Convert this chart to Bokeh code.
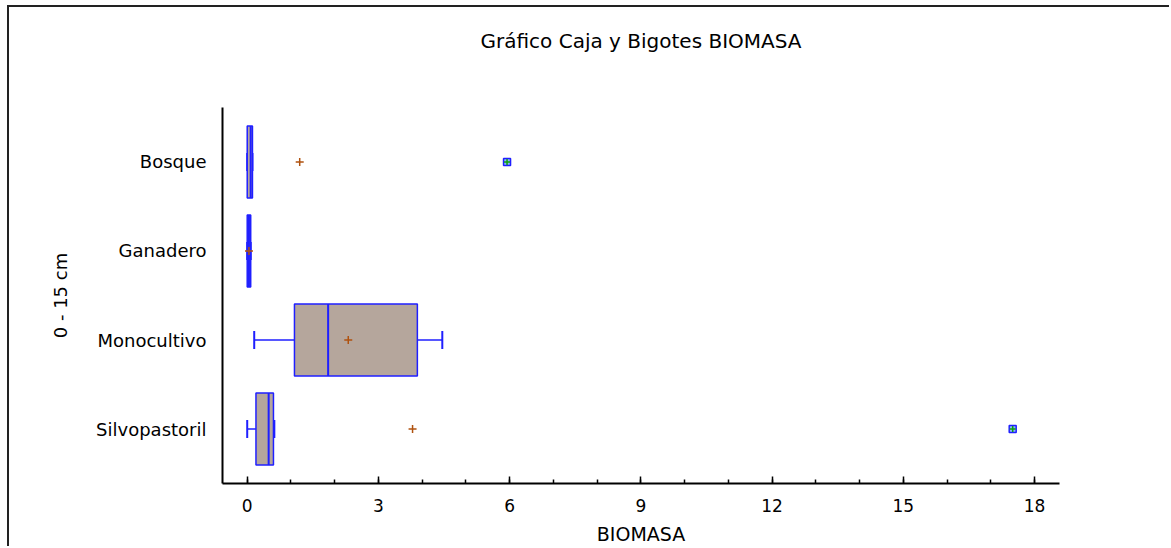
from bokeh.plotting import figure
from bokeh.models import FactorRange, Range1d, SingleIntervalTicker
from bokeh.embed import file_html
from bokeh.resources import INLINE

# ---- data ----
categories = ["Bosque", "Ganadero", "Monocultivo", "Silvopastoril"]
whisker_low = [0.0, 0.0, 0.16, 0.0]
q1 = [0.0, 0.0, 1.08, 0.20]
median = [0.08, 0.04, 1.85, 0.49]
q3 = [0.12, 0.08, 3.89, 0.60]
whisker_high = [0.12, 0.08, 4.46, 0.62]
mean = [1.20, 0.04, 2.31, 3.78]
outlier_cat = ["Bosque", "Silvopastoril"]
outlier_val = [5.94, 17.50]

title = "Gráfico Caja y Bigotes BIOMASA"
x_label = "BIOMASA"
y_label = "0 - 15 cm"

FONT = "DejaVu Sans"
BLUE = "#1f1fff"
FILL = "#b5a69c"
BROWN = "#b0520f"

# canvas offset by the outer page frame (margin + 2px border)
OX, OY = 9, 7
W, H = 1171 - OX, 548 - OY

p = figure(
    width=W, height=H,
    y_range=FactorRange(factors=categories[::-1], range_padding=0.056,
                        range_padding_units="percent"),
    x_range=Range1d(-0.565, 18.57),
    output_backend="svg", toolbar_location=None,
    min_border_left=222 - OX, min_border_right=W - (1059 - OX),
    min_border_top=107 - OY, min_border_bottom=H - (483 - OY),
)
p.margin = (5, 0, 0, 7)
p.styles = {"border-top": "2px solid #222222", "border-left": "2px solid #222222"}

# a trailing empty line lifts the title towards the top of the page
p.title.text = title + "\n "
p.title.align = "center"
p.title.text_font = FONT
p.title.text_font_size = "20px"
p.title.text_line_height = 1.5
p.title.text_font_style = "normal"
p.title.text_color = "black"
p.title.standoff = 38

p.outline_line_color = None
p.xgrid.grid_line_color = None
p.ygrid.grid_line_color = None

# x axis
p.xaxis.ticker = SingleIntervalTicker(interval=3, num_minor_ticks=3)
p.xaxis.axis_label = x_label
p.xaxis.axis_label_text_font = FONT
p.xaxis.axis_label_text_font_size = "19px"
p.xaxis.axis_label_text_font_style = "normal"
p.xaxis.axis_label_text_color = "black"
p.xaxis.major_label_text_font = FONT
p.xaxis.major_label_text_font_size = "17px"
p.xaxis.major_label_text_color = "black"
p.xaxis.major_tick_in = 7
p.xaxis.major_tick_out = 0
p.xaxis.minor_tick_in = 4
p.xaxis.minor_tick_out = 0
p.xaxis.major_label_standoff = 15
p.xaxis.axis_label_standoff = 8
p.xaxis.axis_line_width = 2
p.xaxis.axis_line_color = "black"
p.xaxis.major_tick_line_width = 1.5
p.xaxis.minor_tick_line_width = 1.5
p.xaxis.major_tick_line_color = "black"
p.xaxis.minor_tick_line_color = "black"

# y axis
p.yaxis.axis_label = y_label
p.yaxis.axis_label_text_font = FONT
p.yaxis.axis_label_text_font_size = "18px"
p.yaxis.axis_label_text_font_style = "normal"
p.yaxis.axis_label_text_color = "black"
p.yaxis.major_label_text_font = FONT
p.yaxis.major_label_text_font_size = "18px"
p.yaxis.major_label_text_color = "black"
p.yaxis.major_tick_line_color = None
p.yaxis.minor_tick_line_color = None
p.yaxis.major_label_standoff = 10
p.yaxis.axis_label_standoff = 22
p.yaxis.axis_line_width = 2
p.yaxis.axis_line_color = "black"

# whiskers
p.segment(x0=whisker_low, y0=categories, x1=q1, y1=categories,
          line_color=BLUE, line_width=1.5)
p.segment(x0=q3, y0=categories, x1=whisker_high, y1=categories,
          line_color=BLUE, line_width=1.5)
p.hbar(y=categories, left=whisker_low, right=whisker_low, height=0.2,
       line_color=BLUE, line_width=2, fill_color=None)
p.hbar(y=categories, left=whisker_high, right=whisker_high, height=0.2,
       line_color=BLUE, line_width=2, fill_color=None)

# boxes
p.hbar(y=categories, left=q1, right=q3, height=0.81,
       fill_color=FILL, line_color=BLUE, line_width=1.5)
# median
p.hbar(y=categories, left=median, right=median, height=0.81,
       line_color=BLUE, line_width=2, fill_color=None)
# mean
p.scatter(x=mean, y=categories, marker="cross", size=8,
          line_color=BROWN, line_width=1.5)
# outliers
p.scatter(x=outlier_val, y=outlier_cat, marker="square", size=7,
          line_color=BLUE, fill_color="#8fb4ff", line_width=1.5)
p.scatter(x=outlier_val, y=outlier_cat, marker="cross", size=6,
          line_color="#10a010", line_width=1.5)

open("out.html", "w").write(file_html(p, INLINE))
